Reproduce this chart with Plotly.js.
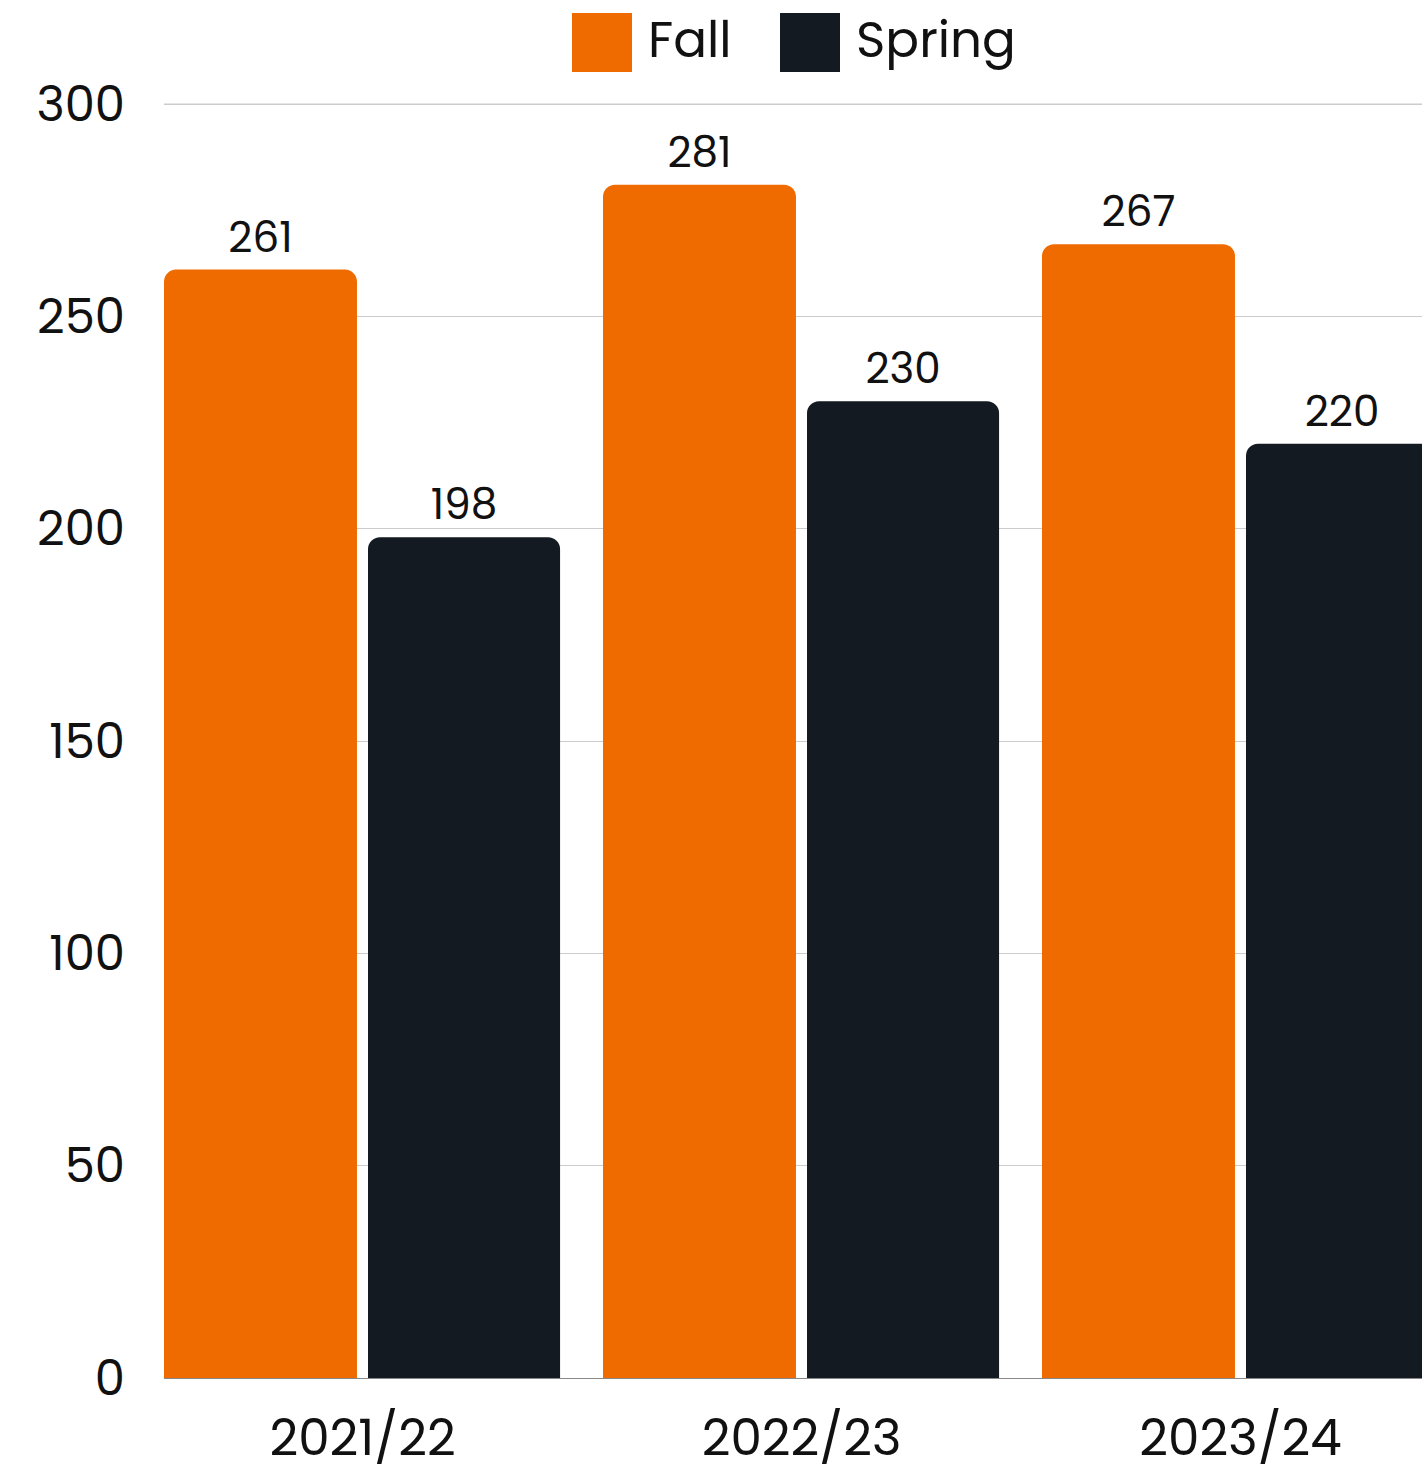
<!DOCTYPE html>
<html>
<head>
<meta charset="utf-8">
<script src="https://cdn.plot.ly/plotly-3.0.1.min.js"></script>
<style>html,body{margin:0;padding:0;background:#fff;}#chart{width:1422px;height:1468px;}</style>
</head>
<body>
<div id="chart"></div>
<script>
var categories = ["2021/22", "2022/23", "2023/24"];
var fallValues = [261, 281, 267];
var springValues = [198, 230, 220];
var seriesNames = ["Fall", "Spring"];
var seriesColors = ["#EF6B00", "#131A21"];
var yTickVals = [0, 50, 100, 150, 200, 250, 300];

var xPos = categories.map(function (_, i) { return i; });
var FONT = "Poppins, 'Open Sans', sans-serif";
var labelFont = {family: FONT, size: 42, color: "#111"};

var traces = [
  {
    type: "bar", name: seriesNames[0], x: xPos, y: fallValues,
    width: 0.4396, offset: -0.4522,
    marker: {color: seriesColors[0], cornerradius: 12, line: {width: 0}},
    text: fallValues.map(String), textposition: "outside", textfont: labelFont,
    cliponaxis: false, hoverinfo: "skip"
  },
  {
    type: "bar", name: seriesNames[1], x: xPos, y: springValues,
    width: 0.4375, offset: 0.0125,
    marker: {color: seriesColors[1], cornerradius: 12, line: {width: 0}},
    text: springValues.map(String), textposition: "outside", textfont: labelFont,
    cliponaxis: true, hoverinfo: "skip"
  }
];

var PW = 1258, PH = 1276, T = 102;
function px(x) { return (x - 164) / PW; }
function py(y) { return 1 + (T - y) / PH; }

var legendShapes = [
  {type: "rect", xref: "paper", yref: "paper", x0: px(572), x1: px(632), y0: py(72), y1: py(13),
   fillcolor: seriesColors[0], line: {width: 0}},
  {type: "rect", xref: "paper", yref: "paper", x0: px(780), x1: px(840), y0: py(72), y1: py(13),
   fillcolor: seriesColors[1], line: {width: 0}},
  {type: "line", xref: "paper", yref: "y", x0: 0, x1: 1, y0: 300, y1: 300, layer: "below",
   line: {color: "#cccccc", width: 1}}
];
var legendAnnotations = [
  {xref: "paper", yref: "paper", x: px(646), y: py(40), xanchor: "left", yanchor: "middle",
   text: seriesNames[0], showarrow: false, font: {family: FONT, size: 50, color: "#111"}},
  {xref: "paper", yref: "paper", x: px(854), y: py(40), xanchor: "left", yanchor: "middle",
   text: seriesNames[1], showarrow: false, font: {family: FONT, size: 50, color: "#111"}}
];

var layout = {
  width: 1422, height: 1468,
  margin: {l: 164, r: 0, t: T, b: 90, pad: 0},
  paper_bgcolor: "#ffffff", plot_bgcolor: "#ffffff",
  showlegend: false,
  barmode: "overlay",
  xaxis: {
    range: [-0.4522, -0.4522 + PW / 439],
    tickvals: xPos, ticktext: categories,
    showgrid: false, zeroline: false,
    showline: true, linecolor: "#888888", linewidth: 1,
    ticks: "", ticklabelstandoff: 16,
    tickfont: {family: FONT, size: 50, color: "#111"},
    fixedrange: true
  },
  yaxis: {
    range: [0, 300 * PH / 1274],
    tickvals: yTickVals,
    showgrid: true, gridcolor: "#cccccc", gridwidth: 1,
    zeroline: false, showline: false,
    ticks: "", ticklabelstandoff: 38,
    tickfont: {family: FONT, size: 48, color: "#111"},
    fixedrange: true
  },
  shapes: legendShapes,
  annotations: legendAnnotations
};

Plotly.newPlot("chart", traces, layout, {displayModeBar: false, staticPlot: true});
</script>
</body>
</html>
